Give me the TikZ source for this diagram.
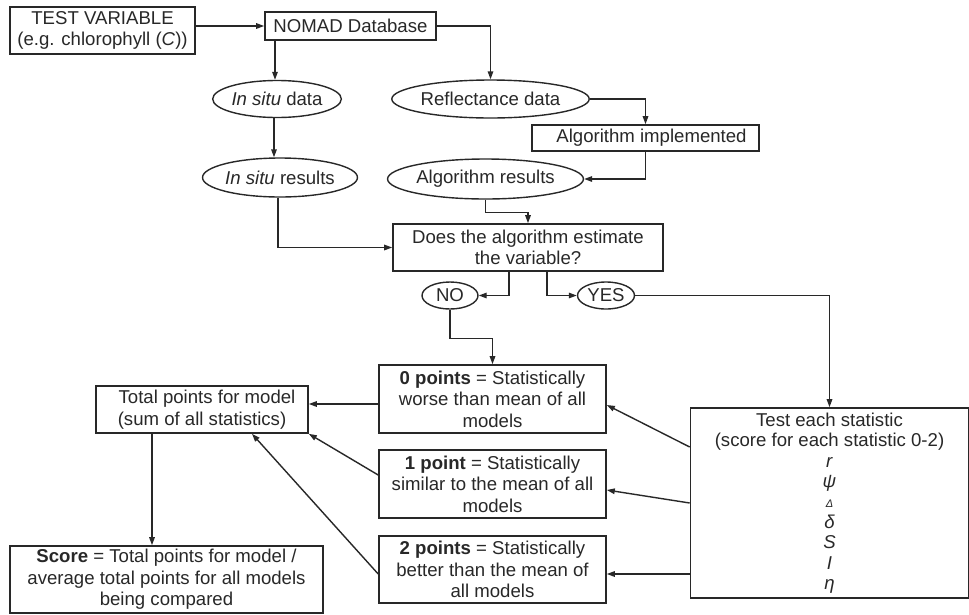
\documentclass[tikz,border=0pt]{standalone}
\usepackage{fontspec}
\setmainfont{Liberation Sans}
\usetikzlibrary{shapes.geometric,arrows.meta}
\definecolor{ink}{RGB}{40,40,40}
\begin{document}
\begin{tikzpicture}[x=1pt,y=-1pt,
  every node/.style={font=\fontsize{18.6}{21.5}\selectfont, text=ink, inner sep=0pt},
  box/.style={draw=ink, line width=1.6pt, rectangle, align=center},
  ell/.style={draw=ink, line width=1.4pt, ellipse, align=center},
  arr/.style={draw=ink, line width=1.4pt, -{Triangle[length=8pt,width=5.5pt]}}]
\useasboundingbox (0,0) rectangle (969,614);
\fill[white] (0,0) rectangle (969,614);

\node[box, minimum width=185pt, minimum height=47pt] (tv) at (102.5,30.5) {TEST VARIABLE\\(e.g. chlorophyll (\textit{C}))};
\node[box, minimum width=171pt, minimum height=28pt] (nomad) at (350.5,26) {NOMAD Database};
\node[ell, minimum width=120pt, minimum height=37pt] (insd) at (277,99) {\textit{In situ} data};
\node[ell, minimum width=126pt, minimum height=39pt] (insr) at (280,177.5) {\textit{In situ} results};
\node[ell, minimum width=165pt, minimum height=38pt] (refl) at (490.5,99) {Reflectance data};
\node[box, minimum width=227pt, minimum height=26pt] (algimp) at (645.5,138) {\hspace*{12pt}Algorithm implemented};
\node[ell, minimum width=153pt, minimum height=40pt] (algres) at (485.5,179) {Algorithm results};
\node[box, minimum width=270pt, minimum height=47pt] (does) at (528,247.5) {Does the algorithm estimate\\the variable?};
\node[ell, minimum width=56pt, minimum height=27pt] (no) at (450,295.5) {NO};
\node[ell, minimum width=57pt, minimum height=27pt] (yes) at (606,295.5) {YES};
\node[box, minimum width=227pt, minimum height=68pt] (p0) at (492.5,399) {\textbf{0 points} = Statistically\\worse than mean of all\\models};
\node[box, minimum width=227pt, minimum height=68pt] (p1) at (492.5,484) {\textbf{1 point} = Statistically\\similar to the mean of all\\models};
\node[box, minimum width=227pt, minimum height=67pt] (p2) at (492.5,569.5) {\textbf{2 points} = Statistically\\better than the mean of\\all models};
\node[box, minimum width=212pt, minimum height=47pt] (total) at (202,409.5) {\hspace*{10pt}Total points for model\\(sum of all statistics)};
\node[box, minimum width=313pt, minimum height=67pt] (score) at (166.5,579.5) {\textbf{Score} = Total points for model /\\average total points for all models\\being compared};
\node[box, minimum width=278pt, minimum height=190pt, font=\fontsize{18.6}{20.4}\selectfont] (test) at (829.5,503)
  {Test each statistic\\(score for each statistic 0-2)\\\textit{r}\\\textit{ψ}\\{\fontsize{11}{12}\selectfont\textit{Δ}}\\\textit{δ}\\\textit{S}\\\textit{I}\\\textit{η}};

\draw[arr] (tv.east |- nomad.west) -- (nomad.west);
\draw[arr] ([xshift=-2pt]insd.north |- nomad.south) -- ([xshift=-2pt]insd.north);
\draw[arr] (nomad.east) -| (refl.north);
\draw[arr] ([xshift=-3pt]insd.south) -- ([xshift=-3pt]insd.south |- insr.north);
\draw[arr] (refl.east) -| (algimp.north);
\draw[arr] (algimp.south) |- (algres.east);
\draw[arr] (algres.south) -- ++(0,13) -| (does.north);
\draw[arr] ([xshift=-2pt]insr.south) |- (does.west);
\draw[arr] ([xshift=-19pt]does.south) |- (no.east);
\draw[arr] ([xshift=19pt]does.south) |- (yes.west);
\draw[arr] (yes.east) -| (test.north);
\draw[arr] (no.south) -- ++(0,29) -| (p0.north);
\draw[arr] ([yshift=-5pt]p0.west) -- ([yshift=-5pt]p0.west -| total.east);
\draw[arr] ([yshift=9pt]p1.west) -- (total.south east);
\draw[arr] ([yshift=-4.5pt]p2.west) -- ([xshift=50pt]total.south);
\draw[arr] ([yshift=56pt]test.west) -- ([yshift=-6pt]p0.east);
\draw[arr] (test.west) -- ([yshift=-6pt]p1.east);
\draw[arr] ([yshift=-71pt]test.west) -- ([yshift=-71pt]test.west -| p2.east);
\draw[arr] ([xshift=-50pt]total.south) -- ([xshift=-50pt]total.south |- score.north);
\end{tikzpicture}
\end{document}
